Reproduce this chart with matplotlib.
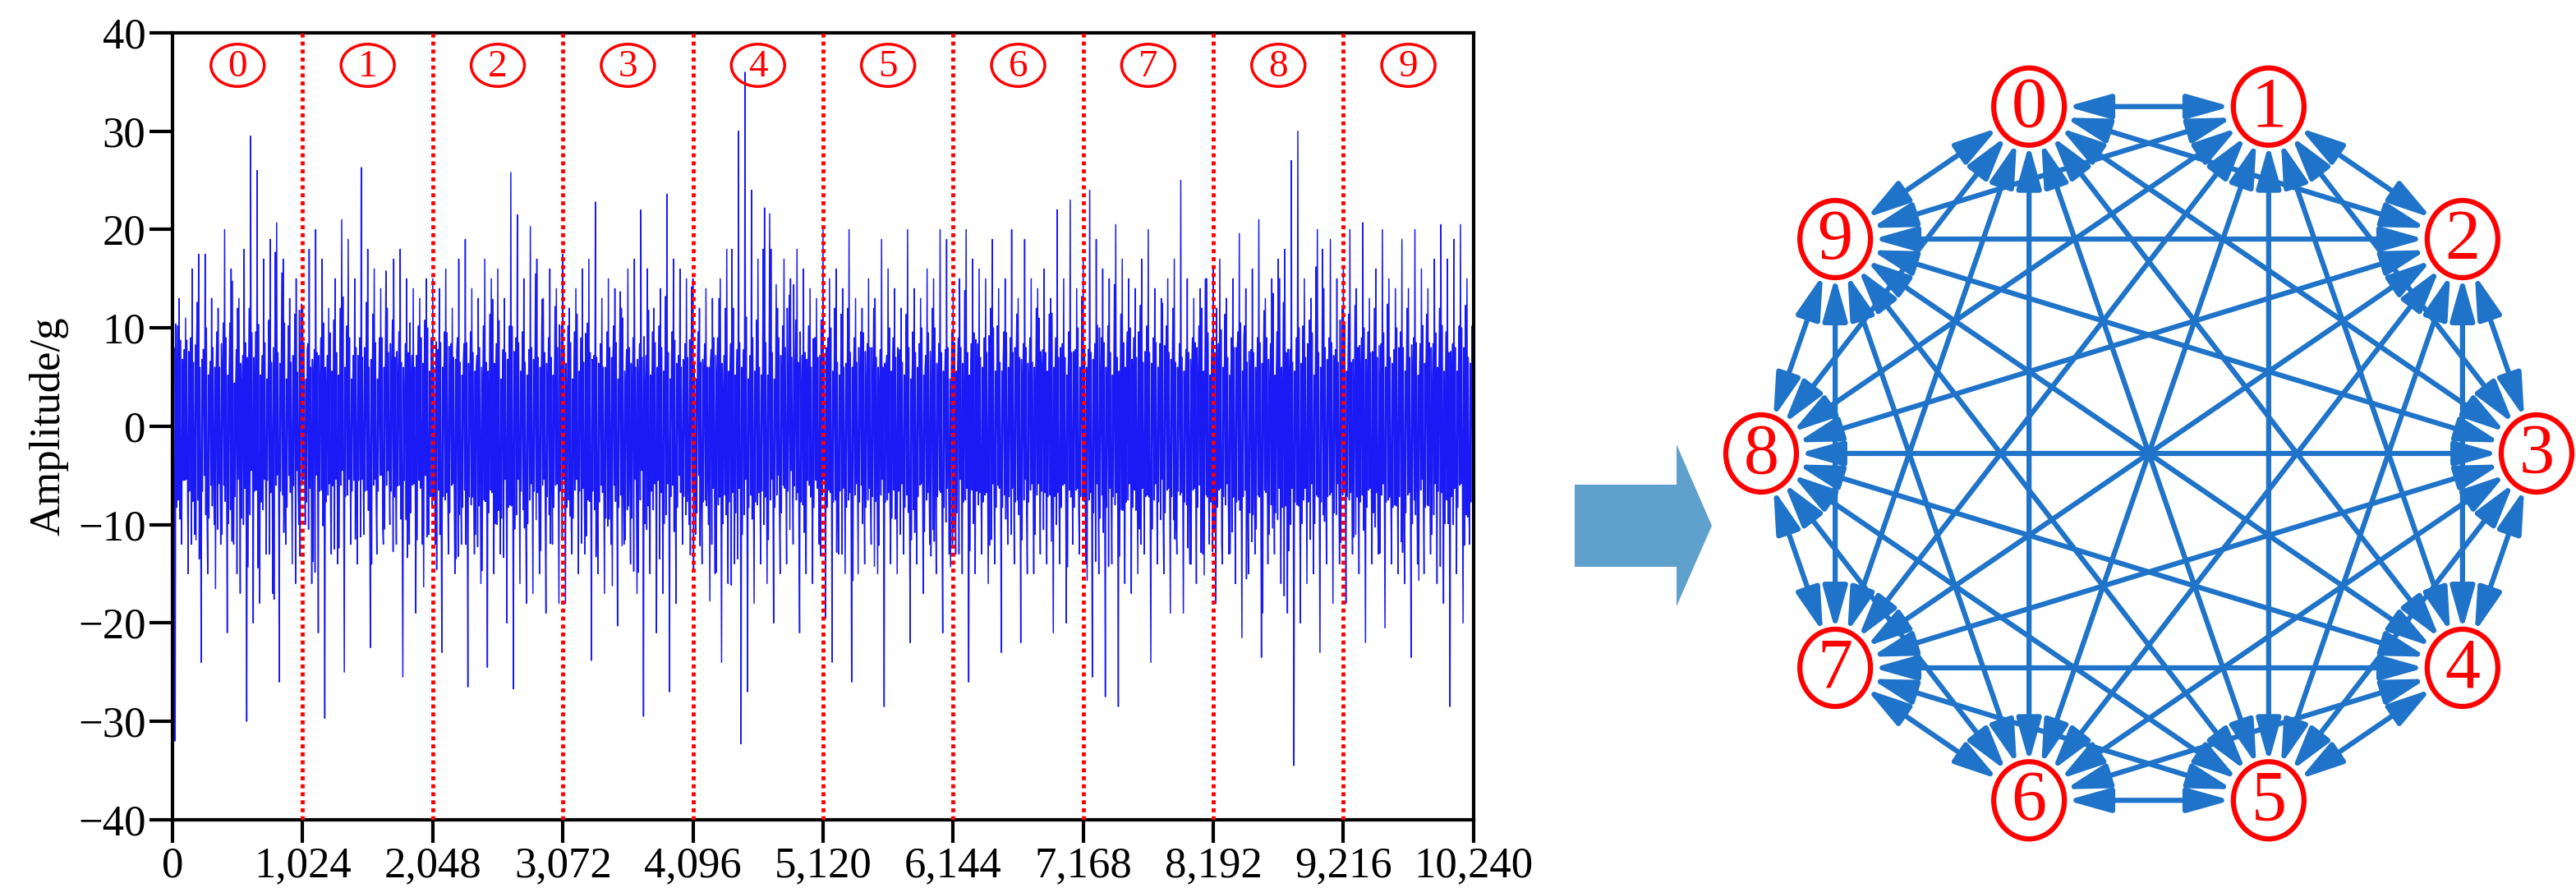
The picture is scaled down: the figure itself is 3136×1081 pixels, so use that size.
import numpy as np
import matplotlib
matplotlib.use("Agg")
import matplotlib.pyplot as plt
from matplotlib.patches import Ellipse, FancyArrowPatch, Polygon

plt.rcParams['font.family'] = ['Liberation Serif', 'DejaVu Serif']

# ---- data: per-segment (1024 samples, 20 bins each) upper / lower envelope peaks ----
seg_hi = [
    [21,13,11,16,17.5,17.5,13,12,20,16,12,18,29.5,26,17,19,20.7,17,13,15],
    [12,18,20,17,12,15,21,19,15,26.3,18,16,14,12,17,18,15,14,13,15],
    [15,14,16,12,17,19,14,13,17,15,16,13,25.8,21.5,15,20.3,17,13,16,14],
    [17.5,12,14,16,17,22.8,13,15,14,12,16,17,22,16,12,14,23.6,17,16,15],
    [15,12,14,13,13,12,18,30,36,24,17,22.2,18,12,17,15,18,16,14,13],
    [20,15,16,14,20,13,12,15,13,19,16,14,12,20,14,13,16,15,20,19],
    [14,15,20,17,16,15,19,14,15,20,13,19,15,14,16,13,22,15,23,14],
    [17,24,19,16,15,20.5,17,15,14,17,20,14,13,15,17,25,15,13,14,15],
    [16,17,13,15,19.6,14,16,21,13,15,17,18,27,30,15,13,20,14,19,15],
    [16,20,14,20.7,13,16,20,15,14,19,14,20,16,14,17,20.5,17,19,20.5,15],
]
seg_lo = [
    [-32,-12,-15,-11,-24,-15,-10,-12,-21,-12,-17,-30,-20,-18,-13,-17,-26,-12,-14,-10],
    [-10,-16,-21,-29.7,-13,-14,-25,-12,-14,-11,-22.5,-13,-12,-10,-12,-25.5,-12,-19,-12,-11],
    [-12,-23,-13,-15,-12,-26.5,-13,-16,-24.5,-15,-13,-20,-26.7,-16,-18,-17,-15,-19,-12,-18],
    [-18,-13,-15,-13,-23.8,-15,-17,-12,-20.3,-12,-14,-17,-29.5,-15,-21,-17,-27,-18,-12,-10],
    [-11,-14,-10,-15,-24,-16,-14,-32.3,-27,-18,-14,-16,-20,-15,-14,-12,-21,-15,-16,-12],
    [-19.5,-24,-13,-15,-26,-15,-14,-12,-15,-28.5,-14,-15,-13,-22,-14,-17,-12,-15,-21,-13],
    [-13,-15,-26,-15,-13,-16,-14,-23,-12,-14,-22,-15,-15,-13,-14,-21,-14,-20,-12,-13],
    [-14,-25.5,-15,-27.5,-14,-28.5,-16,-17,-15,-13,-24,-14,-15,-19,-13,-19,-14,-16,-13,-12],
    [-18,-14,-13,-16,-21.5,-15,-13,-23.5,-14,-13,-16,-19,-34.5,-20,-16,-15,-23,-14,-18,-14],
    [-18,-13,-15,-22,-14,-13,-20.5,-14,-15,-16,-23.5,-14,-15,-13,-16,-18,-28.5,-15,-20,-12],
]
seg_len = 1024
segment_labels = ['0','1','2','3','4','5','6','7','8','9']
xticks = [0,1024,2048,3072,4096,5120,6144,7168,8192,9216,10240]
xticklabels = ['0','1,024','2,048','3,072','4,096','5,120','6,144','7,168','8,192','9,216','10,240']
yticks = [-40,-30,-20,-10,0,10,20,30,40]

# trace: each bin shows its peak and trough, with in-between swings taken
# (scaled) from the other read-off peaks of the same segment
xs, ys = [], []
nb = 20
bw = seg_len / nb
for s in range(10):
    H, L = seg_hi[s], seg_lo[s]
    for b in range(nb):
        x0 = s*seg_len + b*bw
        vals = [H[b], 0.45*L[(b+7) % nb], 0.5*H[(b+3) % nb], 0.35*L[(b+11) % nb],
                L[b], 0.4*H[(b+13) % nb], 0.55*L[(b+5) % nb], 0.3*H[(b+9) % nb],
                0.6*H[(b+17) % nb], 0.5*L[(b+2) % nb]]
        for k, v in enumerate(vals):
            xs.append(x0 + bw*k/len(vals))
            ys.append(v)

fig = plt.figure(figsize=(31.36, 10.81), dpi=100)
ax = fig.add_axes([0.067, 0.077, 0.505, 0.886])
ax.plot(xs, ys, color='#1A1AF5', lw=1.1)
for k in range(1, 10):
    ax.axvline(k*seg_len, color='#FF0000', lw=3.5, ls=(0, (1, 1)), zorder=3)
for k, lab in enumerate(segment_labels):
    xc = k*seg_len + seg_len/2
    ax.add_patch(Ellipse((xc, 36.7), 420, 4.3, fill=False, ec='#FF0000', lw=2.5, zorder=4))
    ax.text(xc, 36.5, lab, color='#FF0000', fontsize=34, ha='center', va='center', zorder=5)
ax.set_xlim(0, 10240)
ax.set_ylim(-40, 40)
ax.set_xticks(xticks)
ax.set_xticklabels(xticklabels)
ax.set_yticks(yticks)
ax.tick_params(labelsize=38, width=3, length=20, direction='out')
for sp in ax.spines.values():
    sp.set_linewidth(3)
ax.set_ylabel('Amplitude/g', fontsize=38, labelpad=8)

# ---- right: complete directed graph ----
gx = fig.add_axes([0, 0, 1, 1])
gx.set_xlim(0, 3136)
gx.set_ylim(1081, 0)
gx.axis('off')
gx.patch.set_alpha(0)

gx.add_patch(Polygon([(1917, 590), (2041, 590), (2041, 541), (2084, 640),
                      (2041, 738), (2041, 690), (1917, 690)],
                     closed=True, fc='#5FA0CC', ec='none'))

cx, cy, rx, ry = 2616, 552, 472, 444
nodes = list(range(10))
pos = {}
for n in nodes:
    ang = np.deg2rad(108 - 36*n)
    pos[n] = (cx + rx*np.cos(ang), cy - ry*np.sin(ang))
ew, eh = 86, 94
blue = '#1F73C8'
for i in nodes:
    for j in nodes:
        if j <= i:
            continue
        a = FancyArrowPatch(pos[i], pos[j], arrowstyle='<|-|>,head_length=32,head_width=9',
                            color=blue, lw=4.5, shrinkA=33, shrinkB=33, mutation_scale=1,
                            zorder=2)
        gx.add_patch(a)
for n in nodes:
    gx.add_patch(Ellipse(pos[n], ew, eh, fc='white', ec='#FF0000', lw=4.5, zorder=5))
    gx.text(pos[n][0], pos[n][1] + 3, str(n), color='#FF0000', fontsize=62,
            ha='center', va='center', zorder=6)

fig.savefig('out.png', dpi=100)
